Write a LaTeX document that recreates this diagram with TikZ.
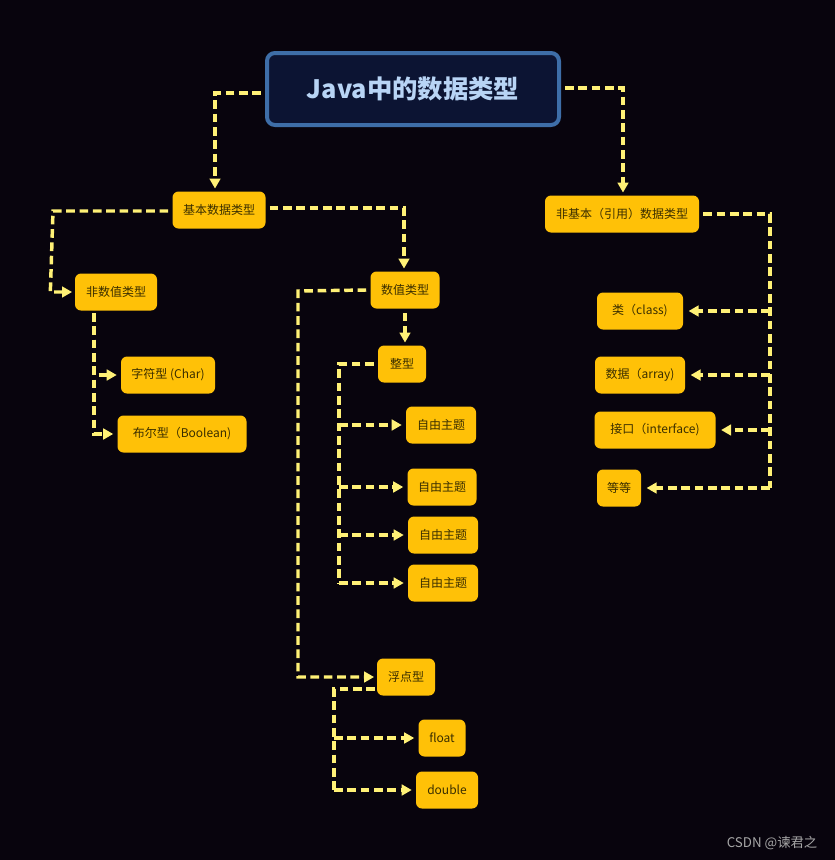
\documentclass[tikz,border=0pt]{standalone}
\usepackage{fontspec}
\setmainfont{Noto Sans CJK SC}
\usetikzlibrary{arrows.meta}
\definecolor{bg}{HTML}{08040D}
\definecolor{ybox}{HTML}{FFC107}
\definecolor{yline}{HTML}{FFF176}
\definecolor{tfill}{HTML}{0C1433}
\definecolor{tborder}{HTML}{3E6EA8}
\definecolor{ttext}{HTML}{B8D4F5}
\definecolor{btext}{HTML}{3A2E00}
\begin{document}
\begin{tikzpicture}[x=0.75pt,y=-0.75pt,
  box/.style={fill=ybox,rounded corners=4.5pt,inner sep=0pt,minimum height=27.75pt,text=btext,font=\fontsize{9}{10}\selectfont},
  conn/.style={yline,line width=2.6pt,dash pattern=on 6.5pt off 3.5pt,-{Triangle[length=7.5pt,width=8pt]}},
  line/.style={yline,line width=2.6pt,dash pattern=on 6.5pt off 3.5pt}]
\fill[bg] (0,0) rectangle (835,860);
\node[fill=tfill,draw=tborder,line width=3pt,rounded corners=6pt,minimum width=0.75*292pt,minimum height=0.75*72pt,text=ttext,font=\fontsize{19}{22}\selectfont\bfseries] (title) at (413,89) {Java中的数据类型};
\node[box,minimum width=0.75*93pt] (basic) at (219,210) {基本数据类型};
\node[box,minimum width=0.75*82pt] (nonnum) at (116,292) {非数值类型};
\node[box,minimum width=0.75*94pt] (char) at (168,375) {字符型 (Char)};
\node[box,minimum width=0.75*129pt] (bool) at (182,434) {布尔型（Boolean)};
\node[box,minimum width=0.75*69pt] (num) at (405,290) {数值类型};
\node[box,minimum width=0.75*48pt] (int) at (402,364) {整型};
\node[box,minimum width=0.75*70pt] (f1) at (441,425) {自由主题};
\node[box,minimum width=0.75*69pt] (f2) at (442,487) {自由主题};
\node[box,minimum width=0.75*70pt] (f3) at (443,535) {自由主题};
\node[box,minimum width=0.75*70pt] (f4) at (443,583) {自由主题};
\node[box,minimum width=0.75*58pt] (flt) at (406,677) {浮点型};
\node[box,minimum width=0.75*47pt] (fl) at (442,738) {float};
\node[box,minimum width=0.75*62pt] (db) at (447,790) {double};
\node[box,minimum width=0.75*154pt] (ref) at (622,214) {非基本（引用）数据类型};
\node[box,minimum width=0.75*86pt] (cls) at (640,311) {类（class)};
\node[box,minimum width=0.75*90pt] (arr) at (640,375) {数据（array)};
\node[box,minimum width=0.75*121pt] (ifc) at (655,430) {接口（interface)};
\node[box,minimum width=0.75*44pt] (etc) at (619,488) {等等};
\node[anchor=east,text=gray!70,font=\fontsize{10}{12}\selectfont] (wm) at (822,843) {CSDN @谏君之};
% connectors
\coordinate (t1) at (215,93); \coordinate (t2) at (623,88);
\draw[conn] ([xshift=-3pt]title.west |- t1) -- (t1) -- ([yshift=2pt]t1 |- basic.north);
\draw[conn] ([xshift=3pt]title.east |- t2) -- (t2) -- ([yshift=2pt]t2 |- ref.north);
\coordinate (b1) at (53,211); \coordinate (b2) at (404,208);
\draw[conn] ([xshift=-3pt]basic.west |- b1) -- (b1) -- ([xshift=-2pt]b1 |- nonnum.west) -- ([xshift=-2pt]nonnum.west);
\draw[conn] ([xshift=3pt]basic.east |- b2) -- (b2) -- ([yshift=2pt]b2 |- num.north);
% non numeric
\coordinate (n1) at (94,313);
\draw[conn] (n1) -- (n1 |- char) -- ([xshift=-3pt]char.west);
\draw[conn] (n1) -- (n1 |- bool) -- ([xshift=-3pt]bool.west);
% numeric
\coordinate (m1) at (298,291);
\draw[conn] ([xshift=-3pt]num.west) -- (m1) -- (m1 |- flt) -- ([xshift=-2pt]flt.west);
\draw[conn] ([yshift=-3pt]num.south) -- ([yshift=2pt]num.south |- int.north);
% int
\coordinate (i1) at (339,364);
\draw[line] ([xshift=-3pt]int.west) -- (i1) -- (i1 |- f4);
\foreach \n in {f1,f2,f3,f4} \draw[conn] (i1 |- \n) -- ([xshift=-3pt]\n.west);
% float
\coordinate (p0) at (375,689); \coordinate (p1) at (334,689);
\draw[line] (p0) -- (p1) -- (p1 |- db);
\foreach \n in {fl,db} \draw[conn] (p1 |- \n) -- ([xshift=-3pt]\n.west);
% reference
\coordinate (r1) at (770,214);
\draw[line] ([xshift=3pt]ref.east) -- (r1) -- (r1 |- etc);
\foreach \n in {cls,arr,ifc,etc} \draw[conn] (r1 |- \n) -- ([xshift=4pt]\n.east);
\end{tikzpicture}
\end{document}
